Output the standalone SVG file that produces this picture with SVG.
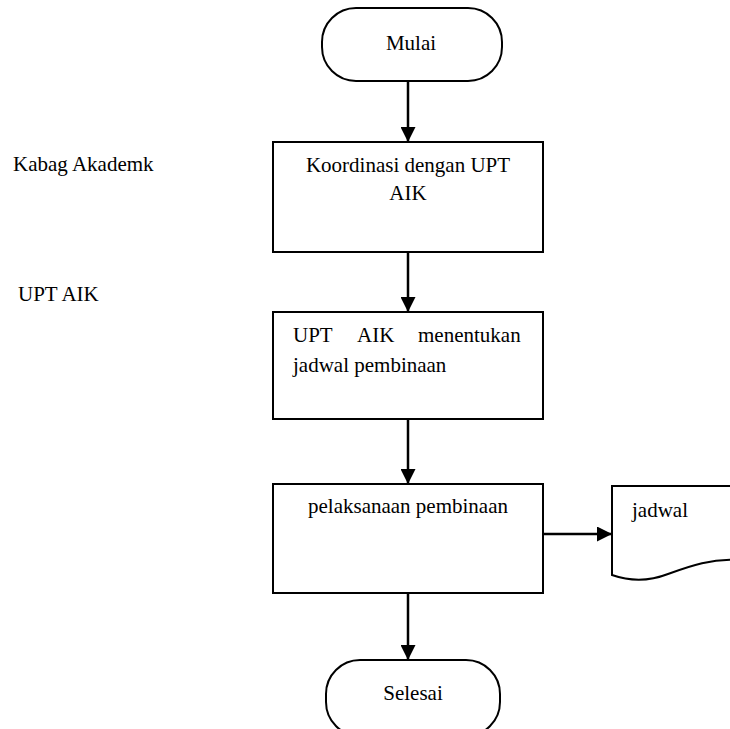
<svg xmlns="http://www.w3.org/2000/svg" width="730" height="729" viewBox="0 0 730 729">
  <style>
    .shape { fill: #ffffff; stroke: #000000; stroke-width: 2; }
    .txt { font-family: "Liberation Serif", "Times New Roman", serif; font-size: 21px; fill: #000000; }
    .mid { text-anchor: middle; }
    .conn { stroke: #000000; stroke-width: 2.5; fill: none; marker-end: url(#head); }
  </style>
  <defs>
    <marker id="head" viewBox="0 0 10 10" refX="10" refY="5" markerWidth="15" markerHeight="15" markerUnits="userSpaceOnUse" orient="auto">
      <path d="M0,0 L10,5 L0,10 Z" fill="#000000"/>
    </marker>
  </defs>

  <!-- lane labels -->
  <text class="txt" x="13" y="171">Kabag Akademk</text>
  <text class="txt" x="18" y="301">UPT AIK</text>

  <!-- connectors -->
  <g id="connectors">
    <line class="conn" x1="408" y1="81" x2="408" y2="142"/>
    <line class="conn" x1="408" y1="252" x2="408" y2="312"/>
    <line class="conn" x1="408" y1="419" x2="408" y2="484"/>
    <line class="conn" x1="543" y1="534" x2="612" y2="534"/>
    <line class="conn" x1="408" y1="593" x2="408" y2="660"/>
  </g>

  <g id="mulai">
    <rect class="shape" x="322" y="8" width="180" height="73" rx="34" ry="34"/>
    <text class="txt mid" x="411" y="50">Mulai</text>
  </g>

  <g id="koordinasi">
    <rect class="shape" x="273" y="142" width="270" height="110"/>
    <text class="txt mid" x="408" y="172">Koordinasi dengan UPT</text>
    <text class="txt mid" x="408" y="200">AIK</text>
  </g>

  <g id="jadwal-pembinaan">
    <rect class="shape" x="273" y="312" width="270" height="107"/>
    <text class="txt" x="293" y="342">UPT</text>
    <text class="txt" x="357" y="342">AIK</text>
    <text class="txt" x="418" y="342">menentukan</text>
    <text class="txt" x="293" y="372">jadwal pembinaan</text>
  </g>

  <g id="pelaksanaan">
    <rect class="shape" x="273" y="484" width="270" height="109"/>
    <text class="txt mid" x="408" y="513">pelaksanaan pembinaan</text>
  </g>

  <g id="dokumen-jadwal">
    <path class="shape" d="M612,486 L742,486 L742,560 C712,558 690,566 668,574 C650,581 632,582 612,575 Z"/>
    <text class="txt" x="632" y="517">jadwal</text>
  </g>

  <g id="selesai">
    <rect class="shape" x="326" y="660" width="174" height="76" rx="34" ry="34"/>
    <text class="txt mid" x="413" y="700">Selesai</text>
  </g>
</svg>
